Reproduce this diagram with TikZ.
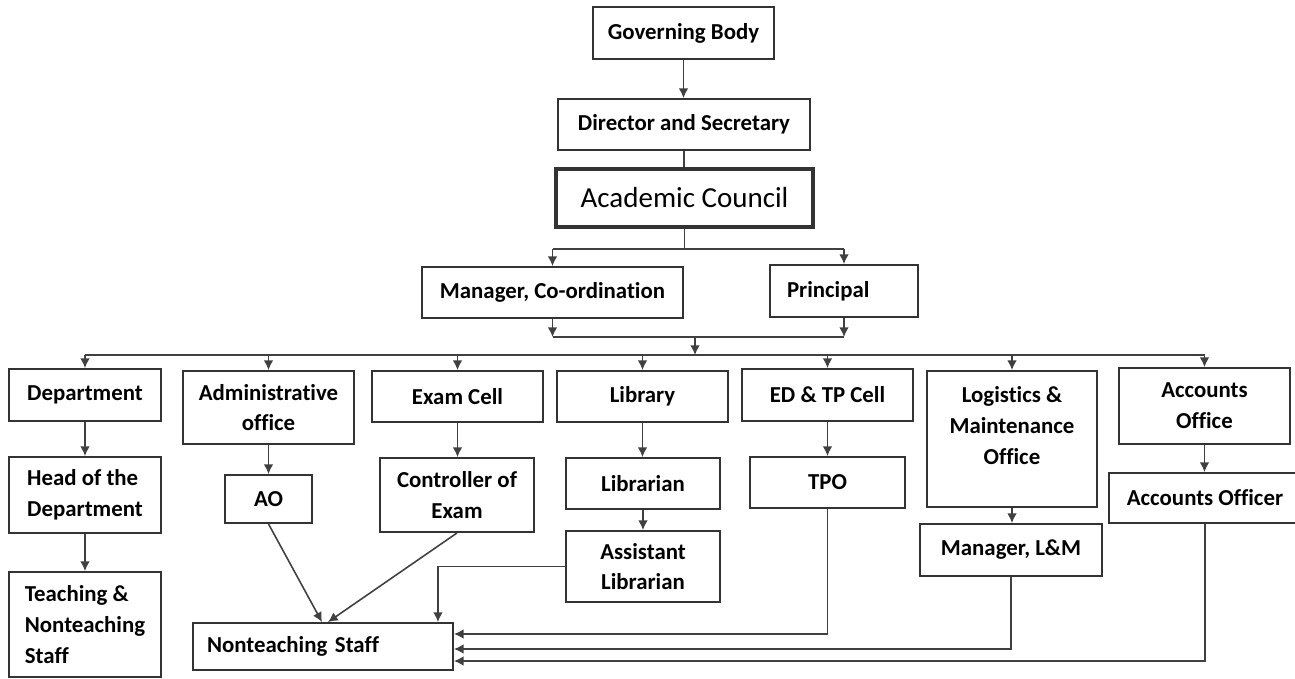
\documentclass[tikz,border=0pt]{standalone}
\usepackage{fontspec}
\setmainfont[Ligatures=NoCommon]{Carlito}
\usetikzlibrary{arrows.meta}
\usetikzlibrary{positioning}

\begin{document}
\begin{tikzpicture}[x=0.02cm, y=-0.02cm,
  box/.style={draw=black!80, line width=1.1pt, inner sep=0pt, align=center,
    font=\fontsize{13}{17.5}\selectfont\bfseries},
  lbox/.style={box, align=left},
  link/.style={draw=black!75, line width=0.9pt},
  arr/.style={link, -{Latex[length=5.5pt,width=5.5pt]}}]

\useasboundingbox (0,0) rectangle (1295,679);

% top of the chart
\node[box, minimum width=3.62cm, minimum height=1.04cm] (gov) at (683.5,33) {Governing Body};
\node[box, minimum width=5.04cm, minimum height=1.02cm] (dir) at (684,124.5) {Director and Secretary};
\node[box, line width=2.3pt, minimum width=5.14cm, minimum height=1.16cm,
  font=\fontsize{16.5}{19}\selectfont] (acad) at (684.5,198) {Academic Council};
\node[box, minimum width=5.22cm, minimum height=1.02cm] (mgr) at (552.5,292.5) {Manager, Co-ordination};
\node[lbox, text width=2.28cm, inner xsep=0.34cm, minimum height=1.04cm] (prin) at (844,291) {Principal};

% first row
\node[box, minimum width=3.04cm, minimum height=1.04cm] (dept) at (85,395) {Department};
\node[box, minimum width=3.42cm, minimum height=1.46cm] (adm) at (268.5,407.5) {Administrative\\office};
\node[box, minimum width=3.42cm, minimum height=1.02cm] (exam) at (457.5,396.5) {Exam Cell};
\node[box, minimum width=3.42cm, minimum height=1.02cm] (lib) at (642.5,396.5) {Library};
\node[box, minimum width=3.42cm, minimum height=1.04cm] (ed) at (827.5,395) {ED \& TP Cell};
\node[box, minimum width=3.4cm, minimum height=2.72cm] (log) at (1012,439)
  {\parbox[c][2.1cm][t]{3.2cm}{\centering Logistics \&\\Maintenance\\Office}};
\node[box, minimum width=3.42cm, minimum height=1.52cm] (acc) at (1204.5,406) {Accounts\\Office};

% second row
\node[lbox, minimum width=3.04cm, minimum height=1.52cm] (hod) at (85,495) {Head of the\\Department};
\node[lbox, minimum width=3.04cm, minimum height=2.1cm] (teach) at (85,624.5) {Teaching \&\\Nonteaching\\Staff};
\node[box, minimum width=1.74cm, minimum height=0.96cm] (ao) at (268.5,499) {AO};
\node[box, minimum width=3.08cm, minimum height=1.48cm] (ctrl) at (457,495) {Controller of\\Exam};
\node[box, minimum width=3.08cm, minimum height=1.02cm] (libn) at (643,483.5) {Librarian};
\node[box, minimum width=3.08cm, minimum height=1.42cm] (alib) at (643,566.5) {Assistant\\Librarian};
\node[box, minimum width=3.1cm, minimum height=1.02cm] (tpo) at (827.5,482.5) {TPO};
\node[box, minimum width=3.64cm, minimum height=1.04cm] (mlm) at (1011,550) {Manager, L\&M};
\node[box, minimum width=3.84cm, minimum height=1.0cm] (acco) at (1205,498) {Accounts Officer};
\node[lbox, text width=4.64cm, inner xsep=0.28cm, minimum height=0.94cm] (nts) at (323,646.5) {Nonteaching Staff};

% governing body down to the council
\draw[arr] (gov.south) -- (gov.south |- dir.north);
\draw[link] (dir.south) -- (dir.south |- acad.north);
\draw[link] (acad.south) -- ++(0,20) coordinate (split);
\draw[link] (mgr.north |- split) -- (prin.north |- split);
\draw[arr] (mgr.north |- split) -- (mgr.north);
\draw[arr] (prin.north |- split) -- (prin.north);

% join and main bus
\coordinate (join) at (695,337);
\coordinate (bus) at (0,355);
\draw[arr] (mgr.south) -- (mgr.south |- join);
\draw[arr] (prin.south) -- (prin.south |- join);
\draw[link] (mgr.south |- join) -- (prin.south |- join);
\draw[arr] (join) -- (join |- bus);
\draw[link] (dept.north |- bus) -- (acc.north |- bus);
\foreach \n in {dept,adm,exam,lib,ed,log,acc}
  \draw[arr] (\n.north |- bus) -- (\n.north);

% down the columns
\foreach \a/\b in {dept/hod,hod/teach,adm/ao,exam/ctrl,lib/libn,libn/alib,ed/tpo,log/mlm,acc/acco}
  \draw[arr] (\a.south) -- (\a.south |- \b.north);

% into nonteaching staff
\draw[arr] (ao.south) -- ([xshift=-0.02cm]nts.north);
\draw[arr] (ctrl.south) -- ([xshift=0.1cm]nts.north);
\draw[arr] (alib.west) -| ([xshift=2.3cm]nts.north);
\draw[arr] (tpo.south) |- ([yshift=0.25cm]nts.east);
\draw[arr] (mlm.south) |- ([yshift=-0.05cm]nts.east);
\draw[arr] (acco.south) |- ([yshift=-0.29cm]nts.east);

\end{tikzpicture}
\end{document}
